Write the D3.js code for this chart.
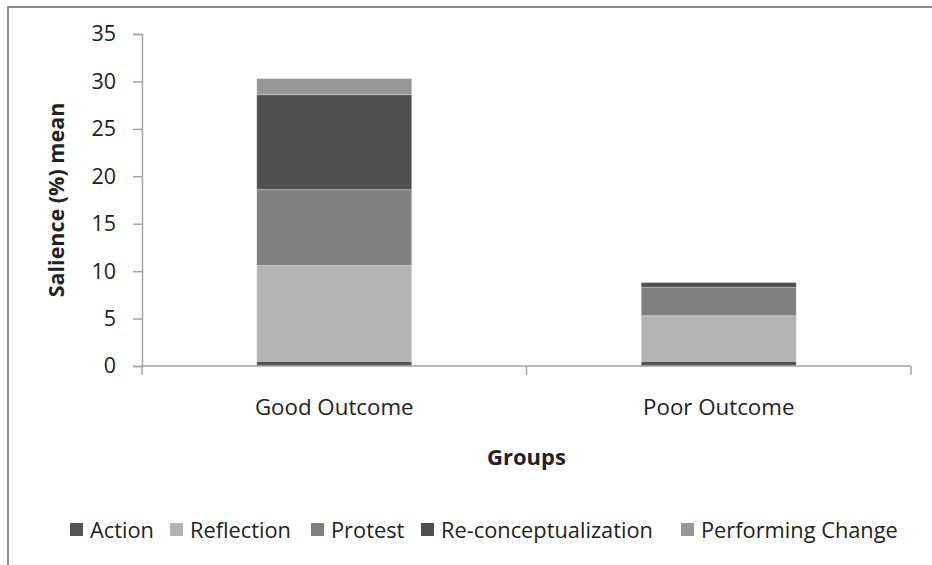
<!DOCTYPE html>
<html><head><meta charset="utf-8">
<script src="https://cdn.jsdelivr.net/npm/d3@7"></script>
<style>body{margin:0;background:#fff}svg{display:block}text{font-family:"Open Sans",sans-serif;fill:#222}</style>
</head><body><svg id="c" width="932" height="565"></svg>
<script>
const categories = ["Good Outcome", "Poor Outcome"];
const seriesNames = ["Action", "Reflection", "Protest", "Re-conceptualization", "Performing Change"];
const action = [0.5, 0.5];
const reflection = [10.1, 4.8];
const protest = [8.0, 3.0];
const reconceptualization = [10.0, 0.5];
const performingChange = [1.7, 0.0];
const yTicks = [0, 5, 10, 15, 20, 25, 30, 35];
const colors = ["#555555", "#b3b3b3", "#808080", "#4f4f4f", "#969696"];

const rows = categories.map((c, i) => ({
  cat: c,
  "Action": action[i],
  "Reflection": reflection[i],
  "Protest": protest[i],
  "Re-conceptualization": reconceptualization[i],
  "Performing Change": performingChange[i]
}));

const svg = d3.select("#c");
svg.append("rect").attr("x", 8).attr("y", 7).attr("width", 940).attr("height", 580)
  .attr("fill", "none").attr("stroke", "#8c8c8c").attr("stroke-width", 2);

const x0 = 142, x1 = 911, yTop = 34, yBot = 366;
const x = d3.scaleBand().domain(categories).range([x0, x1]).padding(0);
const y = d3.scaleLinear().domain([0, 35]).range([yBot, yTop]);
const barW = x.bandwidth() * 0.403;

const stack = d3.stack().keys(seriesNames)(rows);
const color = d3.scaleOrdinal().domain(seriesNames).range(colors);

svg.append("g").selectAll("g").data(stack).join("g")
  .attr("fill", d => color(d.key))
  .selectAll("rect").data(d => d).join("rect")
  .attr("x", d => x(d.data.cat) + (x.bandwidth() - barW) / 2)
  .attr("width", barW)
  .attr("y", d => y(d[1]))
  .attr("height", d => Math.max(0, y(d[0]) - y(d[1])))
  .attr("stroke", "rgba(255,255,255,0.25)").attr("stroke-width", 1);

// Y axis
const yAxis = svg.append("g").attr("transform", `translate(${x0},0)`)
  .call(d3.axisLeft(y).tickValues(yTicks).tickSize(9).tickPadding(17));
yAxis.select(".domain").attr("stroke", "#a6a6a6").attr("stroke-width", 1.5);
yAxis.selectAll(".tick line").attr("stroke", "#a6a6a6").attr("stroke-width", 1.5);
yAxis.selectAll(".tick text").attr("font-size", 21.5).attr("font-family", "Open Sans").attr("fill", "#222");

// X axis
const xAxisG = svg.append("g");
xAxisG.append("line").attr("x1", x0).attr("x2", x1).attr("y1", yBot).attr("y2", yBot)
  .attr("stroke", "#a6a6a6").attr("stroke-width", 1.5);
const bounds = categories.map(c => x(c)).concat([x1]);
xAxisG.selectAll("line.t").data(bounds.slice(1)).join("line").attr("class", "t")
  .attr("x1", d => d).attr("x2", d => d).attr("y1", yBot).attr("y2", yBot + 9)
  .attr("stroke", "#a6a6a6").attr("stroke-width", 1.5);
xAxisG.append("line").attr("x1", x0).attr("x2", x0).attr("y1", yBot).attr("y2", yBot + 9)
  .attr("stroke", "#a6a6a6").attr("stroke-width", 1.5);
xAxisG.selectAll("text").data(categories).join("text")
  .attr("x", d => x(d) + x.bandwidth() / 2).attr("y", 415)
  .attr("text-anchor", "middle").attr("font-size", 22.3).text(d => d);

// Titles
svg.append("text").attr("x", (x0 + x1) / 2).attr("y", 465).attr("text-anchor", "middle")
  .attr("font-size", 22).attr("font-weight", "bold").text("Groups");
svg.append("text").attr("transform", `translate(64,${(yTop + yBot) / 2}) rotate(-90)`)
  .attr("text-anchor", "middle").attr("font-size", 21.5).attr("font-weight", "bold").text("Salience (%) mean");

// Legend
const legX = [70, 170, 311, 421, 681];
const leg = svg.append("g").selectAll("g").data(seriesNames).join("g")
  .attr("transform", (d, i) => `translate(${legX[i]},523)`);
leg.append("rect").attr("width", 13).attr("height", 13).attr("fill", d => color(d));
leg.append("text").attr("x", 20).attr("y", 14.5).attr("font-size", 21.8).text(d => d);
</script></body></html>
